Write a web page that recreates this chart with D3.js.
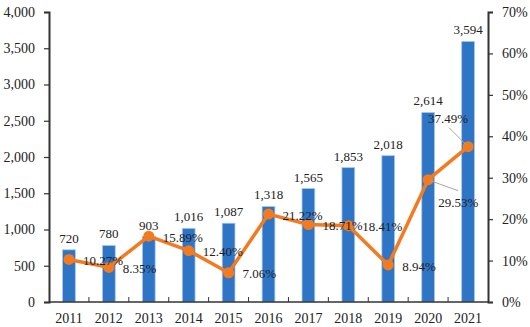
<!DOCTYPE html>
<html>
<head>
<meta charset="utf-8">
<script src="https://cdn.jsdelivr.net/npm/d3@7"></script>
<style>
body{margin:0;background:#fff;}
svg text{font-family:"Liberation Serif","Times New Roman",serif;fill:#222;}
</style>
</head>
<body>
<div id="chart"></div>
<script>
const years = ["2011","2012","2013","2014","2015","2016","2017","2018","2019","2020","2021"];
const values = [720,780,903,1016,1087,1318,1565,1853,2018,2614,3594];
const rates = [10.27,8.35,15.89,12.40,7.06,21.22,18.71,18.41,8.94,29.53,37.49];
const leftTicks = [0,500,1000,1500,2000,2500,3000,3500,4000];
const rightTicks = [0,10,20,30,40,50,60,70];

const W=530,H=327;
const m={l:49,r:42,t:12,b:25};
const svg=d3.select("#chart").append("svg").attr("width",W).attr("height",H);
const x=d3.scaleBand().domain(years).range([m.l,W-m.r]).paddingInner(0.68).paddingOuter(0.34);
const y=d3.scaleLinear().domain([0,4000]).range([H-m.b,m.t]);
const y2=d3.scaleLinear().domain([0,70]).range([H-m.b,m.t]);

// bars
svg.selectAll("rect.bar").data(years).enter().append("rect")
  .attr("x",d=>x(d)).attr("width",x.bandwidth())
  .attr("y",(d,i)=>y(values[i])).attr("height",(d,i)=>y(0)-y(values[i]))
  .attr("fill","#2e75c6").attr("stroke","#a9c9ec").attr("stroke-width",0.8);

// bar labels
svg.selectAll("text.vl").data(years).enter().append("text")
  .attr("x",d=>x(d)+x.bandwidth()/2).attr("y",(d,i)=>y(values[i])-7)
  .attr("text-anchor","middle").attr("font-size",13)
  .text((d,i)=>d3.format(",")(values[i]));

// axes
const axL=d3.axisLeft(y).tickValues(leftTicks).tickFormat(d3.format(",")).tickSize(5).tickPadding(9);
const gL=svg.append("g").attr("transform",`translate(${m.l},0)`).call(axL);
const axR=d3.axisRight(y2).tickValues(rightTicks).tickFormat(d=>d+"%").tickSize(5).tickPadding(9);
const gR=svg.append("g").attr("transform",`translate(${W-m.r},0)`).call(axR);
const xs=d3.scaleLinear().domain([0,years.length]).range([m.l,W-m.r]);
const axB=d3.axisBottom(x).tickSize(0).tickPadding(11);
const gB=svg.append("g").attr("transform",`translate(0,${H-m.b})`).call(axB);
gB.selectAll(".tick text").attr("dy","0.71em");
gB.select(".domain").remove();
svg.append("line").attr("x1",m.l).attr("x2",W-m.r).attr("y1",y(0)).attr("y2",y(0)).attr("stroke","#333").attr("stroke-width",1.5);
svg.selectAll("line.bt").data(d3.range(1,years.length)).enter().append("line")
  .attr("x1",d=>xs(d)).attr("x2",d=>xs(d)).attr("y1",y(0)).attr("y2",y(0)-5)
  .attr("stroke","#333").attr("stroke-width",1);
[gL,gR].forEach(g=>{
  g.select(".domain").attr("stroke","#333").attr("stroke-width",2);
  g.selectAll(".tick line").attr("stroke","#333").attr("stroke-width",1.2);
});
[gL,gR,gB].forEach(g=>g.selectAll(".tick text").attr("font-size",14).attr("font-family","Liberation Serif").attr("fill","#222"));

// line
const cx=i=>x(years[i])+x.bandwidth()/2;
const line=d3.line().x((d,i)=>cx(i)).y(d=>y2(d));
svg.append("path").datum(rates).attr("d",line).attr("fill","none")
  .attr("stroke","#f47a20").attr("stroke-width",3.5).attr("stroke-linejoin","round");
svg.selectAll("circle.pt").data(rates).enter().append("circle")
  .attr("cx",(d,i)=>cx(i)).attr("cy",d=>y2(d)).attr("r",5.5).attr("fill","#f47a20");

// leader lines for last two
svg.append("line").attr("x1",cx(9)+2).attr("y1",y2(rates[9])+1).attr("x2",cx(9)+30).attr("y2",y2(rates[9])+11)
  .attr("stroke","#a6a6a6").attr("stroke-width",1);
svg.append("line").attr("x1",cx(10)-19).attr("y1",y2(rates[10])-19).attr("x2",cx(10)-2).attr("y2",y2(rates[10])-2)
  .attr("stroke","#a6a6a6").attr("stroke-width",1);

// rate labels
svg.selectAll("text.rl").data(rates).enter().append("text")
  .attr("font-size",13)
  .attr("x",(d,i)=> i===9 ? cx(i)+10 : i===10 ? cx(i)-40 : cx(i)+14)
  .attr("y",(d,i)=> i===9 ? y2(d)+23 : i===10 ? y2(d)-28 : y2(d)+1)
  .attr("dy","0.35em")
  .text(d=>d.toFixed(2)+"%");
</script>
</body>
</html>
